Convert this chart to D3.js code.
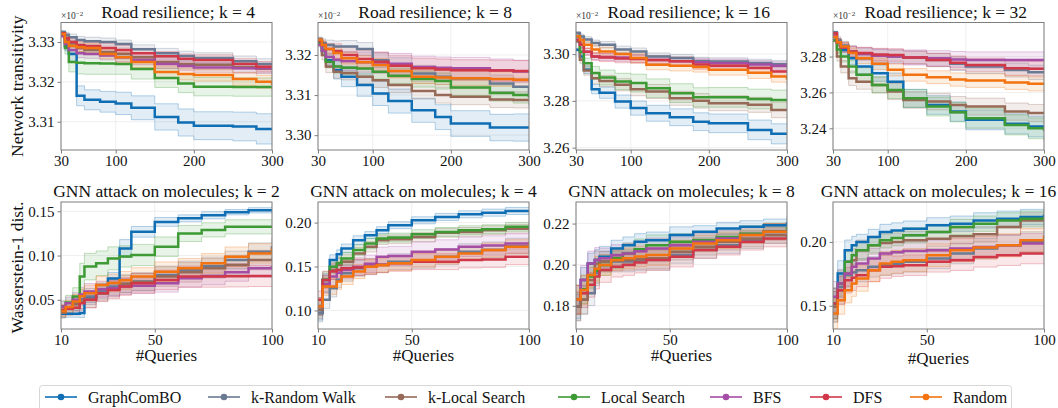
<!DOCTYPE html>
<html>
<head>
<meta charset="utf-8">
<script src="https://cdn.jsdelivr.net/npm/d3@7"></script>
<style>
  body { margin: 0; background: #fff; }
  svg, svg text { font-family: "Liberation Serif", "Times New Roman", "DejaVu Serif", serif; }
</style>
</head>
<body>
<script>
// methods, in legend order
const methods = ["GraphComBO", "k-Random Walk", "k-Local Search", "Local Search", "BFS", "DFS", "Random"];
const colors = ["#0f6eb4", "#6b7a93", "#976a58", "#3d9a35", "#a54ca4", "#d0384a", "#f2730f"];

// query grids (x values)
const roadQueries = [30, 35, 40, 50, 60, 80, 100, 120, 150, 180, 200, 250, 280, 300];
const gnnQueries = [10, 12, 15, 18, 20, 25, 30, 35, 40, 50, 60, 70, 80, 90, 100];

const roadXTicks = [30, 100, 200, 300];
const gnnXTicks = [10, 50, 100];
const road4YTicks = [3.31, 3.32, 3.33];
const road8YTicks = [3.30, 3.31, 3.32];
const road16YTicks = [3.26, 3.28, 3.30];
const road32YTicks = [3.24, 3.26, 3.28];
const gnn2YTicks = [0.05, 0.10, 0.15];
const gnn4YTicks = [0.10, 0.15, 0.20];
const gnn8YTicks = [0.18, 0.20, 0.22];
const gnn16YTicks = [0.15, 0.20];

// Road resilience, network transitivity (x1e-2); rows follow `methods`
const road4Mean = [
  [3.3318, 3.3290, 3.3270, 3.3165, 3.3155, 3.3150, 3.3146, 3.3135, 3.3112, 3.3098, 3.3090, 3.3088, 3.3082, 3.3082],
  [3.3325, 3.3318, 3.3312, 3.3305, 3.3302, 3.3300, 3.3295, 3.3282, 3.3272, 3.3265, 3.3260, 3.3252, 3.3245, 3.3243],
  [3.3322, 3.3305, 3.3296, 3.3285, 3.3280, 3.3275, 3.3270, 3.3262, 3.3250, 3.3245, 3.3243, 3.3237, 3.3233, 3.3233],
  [3.3318, 3.3285, 3.3250, 3.3248, 3.3247, 3.3246, 3.3245, 3.3232, 3.3210, 3.3196, 3.3188, 3.3187, 3.3187, 3.3187],
  [3.3315, 3.3295, 3.3280, 3.3272, 3.3270, 3.3266, 3.3262, 3.3255, 3.3245, 3.3240, 3.3236, 3.3234, 3.3234, 3.3234],
  [3.3322, 3.3310, 3.3300, 3.3292, 3.3290, 3.3285, 3.3280, 3.3272, 3.3264, 3.3258, 3.3255, 3.3245, 3.3238, 3.3235],
  [3.3320, 3.3300, 3.3290, 3.3287, 3.3285, 3.3270, 3.3262, 3.3250, 3.3225, 3.3220, 3.3217, 3.3207, 3.3200, 3.3193]
];
const road4Std = [
  [0.0004, 0.0012, 0.0018, 0.0025, 0.0025, 0.0026, 0.0028, 0.0030, 0.0033, 0.0034, 0.0035, 0.0036, 0.0038, 0.0038],
  [0.0004, 0.0006, 0.0008, 0.0009, 0.0010, 0.0010, 0.0010, 0.0011, 0.0012, 0.0012, 0.0013, 0.0013, 0.0013, 0.0013],
  [0.0004, 0.0007, 0.0009, 0.0010, 0.0011, 0.0011, 0.0012, 0.0012, 0.0013, 0.0013, 0.0013, 0.0013, 0.0013, 0.0013],
  [0.0004, 0.0015, 0.0025, 0.0028, 0.0028, 0.0027, 0.0026, 0.0025, 0.0024, 0.0023, 0.0023, 0.0023, 0.0023, 0.0023],
  [0.0004, 0.0008, 0.0010, 0.0011, 0.0011, 0.0011, 0.0012, 0.0012, 0.0012, 0.0012, 0.0012, 0.0012, 0.0012, 0.0012],
  [0.0004, 0.0007, 0.0009, 0.0010, 0.0010, 0.0011, 0.0011, 0.0012, 0.0012, 0.0012, 0.0013, 0.0013, 0.0013, 0.0013],
  [0.0004, 0.0008, 0.0010, 0.0011, 0.0012, 0.0012, 0.0013, 0.0014, 0.0015, 0.0015, 0.0015, 0.0016, 0.0016, 0.0016]
];

const road8Mean = [
  [3.3235, 3.3212, 3.3187, 3.3162, 3.3146, 3.3125, 3.3104, 3.3085, 3.3062, 3.3045, 3.3029, 3.3019, 3.3019, 3.3019],
  [3.3240, 3.3230, 3.3225, 3.3221, 3.3221, 3.3215, 3.3187, 3.3175, 3.3154, 3.3146, 3.3142, 3.3129, 3.3121, 3.3096],
  [3.3230, 3.3200, 3.3171, 3.3158, 3.3155, 3.3146, 3.3137, 3.3125, 3.3110, 3.3100, 3.3096, 3.3089, 3.3088, 3.3087],
  [3.3232, 3.3210, 3.3183, 3.3171, 3.3168, 3.3166, 3.3158, 3.3148, 3.3140, 3.3135, 3.3119, 3.3105, 3.3100, 3.3094],
  [3.3225, 3.3210, 3.3195, 3.3188, 3.3185, 3.3182, 3.3181, 3.3178, 3.3170, 3.3168, 3.3167, 3.3162, 3.3159, 3.3158],
  [3.3235, 3.3225, 3.3215, 3.3210, 3.3200, 3.3190, 3.3183, 3.3173, 3.3167, 3.3164, 3.3162, 3.3161, 3.3160, 3.3160],
  [3.3238, 3.3225, 3.3215, 3.3205, 3.3192, 3.3182, 3.3175, 3.3160, 3.3146, 3.3144, 3.3142, 3.3140, 3.3138, 3.3137]
];
const road8Std = [
  [0.0005, 0.0012, 0.0018, 0.0022, 0.0025, 0.0028, 0.0030, 0.0030, 0.0030, 0.0031, 0.0032, 0.0033, 0.0034, 0.0035],
  [0.0005, 0.0010, 0.0012, 0.0014, 0.0015, 0.0016, 0.0018, 0.0018, 0.0020, 0.0020, 0.0020, 0.0021, 0.0021, 0.0022],
  [0.0005, 0.0012, 0.0015, 0.0016, 0.0017, 0.0018, 0.0018, 0.0019, 0.0020, 0.0020, 0.0020, 0.0020, 0.0020, 0.0020],
  [0.0005, 0.0012, 0.0015, 0.0016, 0.0017, 0.0018, 0.0018, 0.0019, 0.0020, 0.0020, 0.0020, 0.0020, 0.0020, 0.0020],
  [0.0005, 0.0012, 0.0018, 0.0022, 0.0024, 0.0025, 0.0026, 0.0026, 0.0027, 0.0027, 0.0027, 0.0028, 0.0028, 0.0028],
  [0.0005, 0.0010, 0.0014, 0.0018, 0.0020, 0.0022, 0.0024, 0.0025, 0.0025, 0.0026, 0.0026, 0.0026, 0.0026, 0.0026],
  [0.0005, 0.0010, 0.0012, 0.0014, 0.0015, 0.0016, 0.0016, 0.0017, 0.0017, 0.0018, 0.0018, 0.0018, 0.0018, 0.0018]
];

const road16Mean = [
  [3.3019, 3.2990, 3.2933, 3.2850, 3.2835, 3.2797, 3.2769, 3.2747, 3.2730, 3.2711, 3.2704, 3.2676, 3.2659, 3.2659],
  [3.3090, 3.3075, 3.3062, 3.3047, 3.3040, 3.3020, 3.3011, 3.2990, 3.2983, 3.2970, 3.2968, 3.2962, 3.2957, 3.2954],
  [3.3054, 3.2976, 3.2930, 3.2897, 3.2885, 3.2869, 3.2850, 3.2840, 3.2811, 3.2800, 3.2790, 3.2783, 3.2761, 3.2761],
  [3.3076, 3.3010, 3.2961, 3.2919, 3.2900, 3.2883, 3.2876, 3.2854, 3.2833, 3.2815, 3.2815, 3.2808, 3.2804, 3.2804],
  [3.3061, 3.3040, 3.3010, 3.2990, 3.2988, 3.2985, 3.2980, 3.2975, 3.2969, 3.2965, 3.2961, 3.2955, 3.2950, 3.2947],
  [3.3060, 3.3040, 3.3010, 3.2990, 3.2985, 3.2981, 3.2979, 3.2975, 3.2969, 3.2955, 3.2950, 3.2940, 3.2926, 3.2921],
  [3.3076, 3.3060, 3.3040, 3.3020, 3.3011, 3.3000, 3.2983, 3.2954, 3.2950, 3.2945, 3.2933, 3.2920, 3.2904, 3.2890]
];
const road16Std = [
  [0.0006, 0.0012, 0.0016, 0.0020, 0.0024, 0.0028, 0.0030, 0.0034, 0.0036, 0.0038, 0.0040, 0.0042, 0.0043, 0.0043],
  [0.0006, 0.0010, 0.0012, 0.0013, 0.0014, 0.0014, 0.0015, 0.0015, 0.0015, 0.0016, 0.0016, 0.0016, 0.0016, 0.0016],
  [0.0006, 0.0015, 0.0020, 0.0022, 0.0024, 0.0026, 0.0028, 0.0030, 0.0030, 0.0031, 0.0032, 0.0032, 0.0033, 0.0034],
  [0.0006, 0.0015, 0.0022, 0.0028, 0.0032, 0.0035, 0.0038, 0.0040, 0.0040, 0.0041, 0.0042, 0.0042, 0.0042, 0.0043],
  [0.0006, 0.0012, 0.0014, 0.0015, 0.0015, 0.0016, 0.0016, 0.0016, 0.0017, 0.0017, 0.0017, 0.0017, 0.0017, 0.0017],
  [0.0006, 0.0012, 0.0015, 0.0016, 0.0017, 0.0018, 0.0018, 0.0019, 0.0019, 0.0020, 0.0020, 0.0020, 0.0020, 0.0020],
  [0.0006, 0.0012, 0.0015, 0.0017, 0.0018, 0.0020, 0.0020, 0.0021, 0.0022, 0.0022, 0.0023, 0.0024, 0.0024, 0.0025]
];

const road32Mean = [
  [3.2930, 3.2880, 3.2837, 3.2791, 3.2744, 3.2707, 3.2660, 3.2567, 3.2530, 3.2493, 3.2447, 3.2425, 3.2410, 3.2400],
  [3.2935, 3.2890, 3.2860, 3.2830, 3.2815, 3.2805, 3.2800, 3.2795, 3.2781, 3.2760, 3.2744, 3.2725, 3.2712, 3.2707],
  [3.2893, 3.2800, 3.2744, 3.2679, 3.2660, 3.2642, 3.2605, 3.2558, 3.2549, 3.2530, 3.2521, 3.2493, 3.2485, 3.2480],
  [3.2890, 3.2840, 3.2800, 3.2744, 3.2698, 3.2642, 3.2614, 3.2567, 3.2521, 3.2490, 3.2456, 3.2419, 3.2400, 3.2387],
  [3.2920, 3.2880, 3.2850, 3.2825, 3.2815, 3.2805, 3.2800, 3.2795, 3.2790, 3.2784, 3.2781, 3.2781, 3.2781, 3.2781],
  [3.2930, 3.2880, 3.2850, 3.2828, 3.2820, 3.2812, 3.2809, 3.2795, 3.2781, 3.2765, 3.2753, 3.2735, 3.2732, 3.2731],
  [3.2910, 3.2880, 3.2856, 3.2820, 3.2791, 3.2760, 3.2726, 3.2698, 3.2685, 3.2672, 3.2666, 3.2655, 3.2648, 3.2642]
];
const road32Std = [
  [0.0008, 0.0020, 0.0030, 0.0035, 0.0040, 0.0045, 0.0048, 0.0050, 0.0052, 0.0054, 0.0055, 0.0056, 0.0058, 0.0060],
  [0.0008, 0.0020, 0.0025, 0.0030, 0.0032, 0.0034, 0.0035, 0.0036, 0.0037, 0.0038, 0.0038, 0.0039, 0.0040, 0.0040],
  [0.0008, 0.0025, 0.0035, 0.0040, 0.0042, 0.0044, 0.0045, 0.0046, 0.0046, 0.0047, 0.0047, 0.0048, 0.0048, 0.0048],
  [0.0008, 0.0020, 0.0030, 0.0035, 0.0040, 0.0045, 0.0048, 0.0050, 0.0052, 0.0054, 0.0055, 0.0056, 0.0058, 0.0060],
  [0.0008, 0.0020, 0.0028, 0.0032, 0.0035, 0.0038, 0.0040, 0.0042, 0.0043, 0.0044, 0.0045, 0.0045, 0.0045, 0.0045],
  [0.0008, 0.0020, 0.0025, 0.0030, 0.0032, 0.0034, 0.0035, 0.0036, 0.0037, 0.0038, 0.0038, 0.0039, 0.0040, 0.0040],
  [0.0008, 0.0020, 0.0025, 0.0028, 0.0030, 0.0032, 0.0034, 0.0035, 0.0036, 0.0037, 0.0038, 0.0038, 0.0039, 0.0040]
];

// GNN attack on molecules, Wasserstein-1 distance
const gnn2Mean = [
  [0.0343, 0.0343, 0.0343, 0.0350, 0.0530, 0.0620, 0.0740, 0.1080, 0.1268, 0.1380, 0.1420, 0.1455, 0.1490, 0.1511, 0.1522],
  [0.0355, 0.0400, 0.0460, 0.0510, 0.0537, 0.0600, 0.0650, 0.0680, 0.0706, 0.0781, 0.0837, 0.0882, 0.0949, 0.1043, 0.1107],
  [0.0355, 0.0400, 0.0450, 0.0480, 0.0500, 0.0570, 0.0631, 0.0680, 0.0700, 0.0762, 0.0810, 0.0856, 0.0893, 0.0949, 0.0968],
  [0.0425, 0.0470, 0.0537, 0.0762, 0.0875, 0.0912, 0.0968, 0.0990, 0.1006, 0.1100, 0.1249, 0.1290, 0.1324, 0.1324, 0.1324],
  [0.0425, 0.0460, 0.0500, 0.0560, 0.0594, 0.0620, 0.0631, 0.0650, 0.0660, 0.0687, 0.0743, 0.0770, 0.0810, 0.0856, 0.0882],
  [0.0388, 0.0400, 0.0410, 0.0460, 0.0500, 0.0575, 0.0612, 0.0650, 0.0687, 0.0725, 0.0762, 0.0762, 0.0765, 0.0770, 0.0773],
  [0.0370, 0.0420, 0.0480, 0.0540, 0.0575, 0.0668, 0.0690, 0.0720, 0.0762, 0.0818, 0.0856, 0.0912, 0.0987, 0.1024, 0.1092]
];
const gnn2Std = [
  [0.004, 0.004, 0.004, 0.005, 0.006, 0.006, 0.007, 0.010, 0.006, 0.005, 0.004, 0.004, 0.003, 0.003, 0.003],
  [0.006, 0.007, 0.008, 0.008, 0.009, 0.009, 0.010, 0.010, 0.010, 0.010, 0.010, 0.010, 0.010, 0.010, 0.010],
  [0.006, 0.007, 0.008, 0.008, 0.009, 0.009, 0.010, 0.010, 0.010, 0.011, 0.011, 0.011, 0.011, 0.011, 0.011],
  [0.006, 0.008, 0.010, 0.015, 0.015, 0.014, 0.013, 0.012, 0.012, 0.011, 0.009, 0.008, 0.008, 0.008, 0.008],
  [0.006, 0.007, 0.008, 0.008, 0.009, 0.009, 0.009, 0.009, 0.009, 0.010, 0.010, 0.010, 0.010, 0.010, 0.010],
  [0.006, 0.007, 0.008, 0.008, 0.009, 0.009, 0.010, 0.010, 0.011, 0.011, 0.012, 0.012, 0.012, 0.012, 0.012],
  [0.006, 0.007, 0.008, 0.008, 0.009, 0.010, 0.010, 0.010, 0.010, 0.011, 0.011, 0.011, 0.011, 0.011, 0.011]
];

const gnn4Mean = [
  [0.0970, 0.1347, 0.1574, 0.1640, 0.1706, 0.1800, 0.1857, 0.1913, 0.1970, 0.2026, 0.2064, 0.2094, 0.2113, 0.2132, 0.2140],
  [0.0970, 0.1121, 0.1253, 0.1350, 0.1423, 0.1479, 0.1498, 0.1520, 0.1555, 0.1570, 0.1611, 0.1668, 0.1690, 0.1732, 0.1770],
  [0.1008, 0.1300, 0.1460, 0.1520, 0.1555, 0.1649, 0.1725, 0.1800, 0.1810, 0.1835, 0.1883, 0.1894, 0.1913, 0.1930, 0.1951],
  [0.1045, 0.1350, 0.1498, 0.1540, 0.1592, 0.1687, 0.1762, 0.1819, 0.1830, 0.1868, 0.1894, 0.1913, 0.1925, 0.1951, 0.1970],
  [0.1045, 0.1300, 0.1385, 0.1430, 0.1460, 0.1498, 0.1530, 0.1611, 0.1620, 0.1668, 0.1694, 0.1725, 0.1740, 0.1762, 0.1781],
  [0.1121, 0.1347, 0.1442, 0.1460, 0.1479, 0.1490, 0.1498, 0.1520, 0.1536, 0.1555, 0.1555, 0.1574, 0.1580, 0.1611, 0.1611],
  [0.1045, 0.1272, 0.1272, 0.1330, 0.1385, 0.1442, 0.1498, 0.1515, 0.1536, 0.1574, 0.1611, 0.1649, 0.1687, 0.1725, 0.1762]
];
const gnn4Std = [
  [0.008, 0.007, 0.006, 0.005, 0.005, 0.005, 0.004, 0.004, 0.004, 0.004, 0.004, 0.004, 0.004, 0.004, 0.004],
  [0.010, 0.010, 0.010, 0.009, 0.009, 0.009, 0.009, 0.009, 0.009, 0.009, 0.009, 0.009, 0.009, 0.009, 0.009],
  [0.010, 0.010, 0.009, 0.008, 0.008, 0.007, 0.006, 0.005, 0.005, 0.005, 0.005, 0.005, 0.005, 0.005, 0.005],
  [0.010, 0.009, 0.008, 0.007, 0.007, 0.006, 0.006, 0.005, 0.005, 0.005, 0.005, 0.005, 0.005, 0.005, 0.005],
  [0.010, 0.010, 0.010, 0.010, 0.010, 0.010, 0.010, 0.011, 0.011, 0.011, 0.011, 0.011, 0.011, 0.011, 0.011],
  [0.010, 0.010, 0.009, 0.009, 0.009, 0.009, 0.009, 0.009, 0.009, 0.009, 0.009, 0.009, 0.009, 0.009, 0.009],
  [0.010, 0.010, 0.009, 0.009, 0.009, 0.008, 0.008, 0.008, 0.008, 0.008, 0.008, 0.008, 0.008, 0.008, 0.008]
];

const gnn8Mean = [
  [0.1797, 0.1926, 0.2006, 0.2023, 0.2039, 0.2079, 0.2095, 0.2111, 0.2119, 0.2144, 0.2160, 0.2176, 0.2184, 0.2192, 0.2208],
  [0.1797, 0.1829, 0.1861, 0.1958, 0.2015, 0.2015, 0.2015, 0.2020, 0.2023, 0.2047, 0.2071, 0.2095, 0.2119, 0.2144, 0.2148],
  [0.1797, 0.1830, 0.1926, 0.2006, 0.2015, 0.2020, 0.2023, 0.2027, 0.2031, 0.2063, 0.2087, 0.2111, 0.2127, 0.2144, 0.2152],
  [0.1829, 0.1880, 0.1942, 0.1970, 0.1998, 0.2031, 0.2055, 0.2075, 0.2095, 0.2111, 0.2119, 0.2135, 0.2150, 0.2163, 0.2184],
  [0.1830, 0.1926, 0.2006, 0.2023, 0.2031, 0.2047, 0.2055, 0.2065, 0.2079, 0.2095, 0.2111, 0.2127, 0.2144, 0.2160, 0.2168],
  [0.1829, 0.1861, 0.1902, 0.1942, 0.1974, 0.1990, 0.1998, 0.2010, 0.2023, 0.2039, 0.2071, 0.2087, 0.2111, 0.2127, 0.2144],
  [0.1830, 0.1877, 0.1950, 0.1980, 0.1998, 0.2023, 0.2031, 0.2040, 0.2047, 0.2079, 0.2103, 0.2119, 0.2144, 0.2160, 0.2168]
];
const gnn8Std = [
  [0.006, 0.006, 0.005, 0.005, 0.005, 0.004, 0.004, 0.004, 0.004, 0.004, 0.003, 0.003, 0.003, 0.003, 0.003],
  [0.007, 0.007, 0.006, 0.006, 0.005, 0.005, 0.005, 0.005, 0.005, 0.004, 0.004, 0.004, 0.004, 0.004, 0.004],
  [0.007, 0.007, 0.006, 0.006, 0.005, 0.005, 0.005, 0.005, 0.005, 0.004, 0.004, 0.004, 0.004, 0.004, 0.004],
  [0.007, 0.007, 0.006, 0.006, 0.005, 0.005, 0.005, 0.005, 0.005, 0.004, 0.004, 0.004, 0.004, 0.004, 0.004],
  [0.007, 0.007, 0.006, 0.006, 0.005, 0.005, 0.005, 0.005, 0.005, 0.004, 0.004, 0.004, 0.004, 0.004, 0.004],
  [0.007, 0.007, 0.006, 0.006, 0.006, 0.005, 0.005, 0.005, 0.005, 0.005, 0.004, 0.004, 0.004, 0.004, 0.004],
  [0.007, 0.007, 0.006, 0.006, 0.005, 0.005, 0.005, 0.005, 0.005, 0.004, 0.004, 0.004, 0.004, 0.004, 0.004]
];

const gnn16Mean = [
  [0.1518, 0.1753, 0.1935, 0.1974, 0.2000, 0.2039, 0.2078, 0.2090, 0.2104, 0.2130, 0.2143, 0.2169, 0.2182, 0.2195, 0.2216],
  [0.1492, 0.1648, 0.1740, 0.1760, 0.1779, 0.1805, 0.1818, 0.1830, 0.1844, 0.1870, 0.1909, 0.1948, 0.1974, 0.2000, 0.2013],
  [0.1492, 0.1622, 0.1753, 0.1857, 0.1935, 0.1974, 0.1992, 0.2000, 0.2013, 0.2026, 0.2045, 0.2060, 0.2117, 0.2169, 0.2190],
  [0.1518, 0.1674, 0.1844, 0.1896, 0.1935, 0.1974, 0.2013, 0.2030, 0.2052, 0.2078, 0.2117, 0.2143, 0.2169, 0.2182, 0.2195],
  [0.1570, 0.1674, 0.1753, 0.1805, 0.1831, 0.1870, 0.1909, 0.1920, 0.1930, 0.1935, 0.1948, 0.1961, 0.1974, 0.1987, 0.2000],
  [0.1518, 0.1622, 0.1700, 0.1720, 0.1740, 0.1779, 0.1805, 0.1810, 0.1818, 0.1844, 0.1857, 0.1883, 0.1896, 0.1909, 0.1909],
  [0.1440, 0.1544, 0.1622, 0.1674, 0.1714, 0.1779, 0.1831, 0.1845, 0.1857, 0.1896, 0.1935, 0.1956, 0.1974, 0.2013, 0.2052]
];
const gnn16Std = [
  [0.012, 0.010, 0.008, 0.007, 0.006, 0.006, 0.006, 0.006, 0.006, 0.006, 0.006, 0.006, 0.006, 0.006, 0.006],
  [0.012, 0.011, 0.010, 0.009, 0.009, 0.008, 0.008, 0.008, 0.008, 0.008, 0.008, 0.008, 0.008, 0.008, 0.008],
  [0.012, 0.011, 0.010, 0.009, 0.008, 0.007, 0.007, 0.007, 0.007, 0.006, 0.006, 0.006, 0.006, 0.006, 0.006],
  [0.012, 0.010, 0.008, 0.007, 0.007, 0.006, 0.006, 0.006, 0.006, 0.006, 0.006, 0.006, 0.006, 0.006, 0.006],
  [0.012, 0.011, 0.010, 0.009, 0.009, 0.008, 0.008, 0.008, 0.008, 0.008, 0.008, 0.008, 0.008, 0.008, 0.008],
  [0.012, 0.011, 0.010, 0.010, 0.009, 0.009, 0.009, 0.008, 0.008, 0.008, 0.008, 0.008, 0.008, 0.008, 0.008],
  [0.012, 0.011, 0.010, 0.010, 0.010, 0.009, 0.009, 0.009, 0.009, 0.009, 0.009, 0.009, 0.009, 0.009, 0.009]
];

const width = 1058;
const height = 408;
const colLeft = [61, 318, 576, 833];
const plotW = 211;
const rowTop = [22.5, 202];
const plotH = [127.5, 127];
const serif = '"Liberation Serif", "Times New Roman", serif';

const panels = [
  { title: "Road resilience; k = 4", row: 0, col: 0, x: roadQueries, mean: road4Mean, std: road4Std, yDomain: [3.3029, 3.3349], yTicks: road4YTicks, xTicks: roadXTicks },
  { title: "Road resilience; k = 8", row: 0, col: 1, x: roadQueries, mean: road8Mean, std: road8Std, yDomain: [3.2963, 3.3281], yTicks: road8YTicks, xTicks: roadXTicks },
  { title: "Road resilience; k = 16", row: 0, col: 2, x: roadQueries, mean: road16Mean, std: road16Std, yDomain: [3.2590, 3.3135], yTicks: road16YTicks, xTicks: roadXTicks },
  { title: "Road resilience; k = 32", row: 0, col: 3, x: roadQueries, mean: road32Mean, std: road32Std, yDomain: [3.2279, 3.2990], yTicks: road32YTicks, xTicks: roadXTicks },
  { title: "GNN attack on molecules; k = 2", row: 1, col: 0, x: gnnQueries, mean: gnn2Mean, std: gnn2Std, yDomain: [0.017, 0.1605], yTicks: gnn2YTicks, xTicks: gnnXTicks },
  { title: "GNN attack on molecules; k = 4", row: 1, col: 1, x: gnnQueries, mean: gnn4Mean, std: gnn4Std, yDomain: [0.0789, 0.2234], yTicks: gnn4YTicks, xTicks: gnnXTicks },
  { title: "GNN attack on molecules; k = 8", row: 1, col: 2, x: gnnQueries, mean: gnn8Mean, std: gnn8Std, yDomain: [0.1687, 0.2305], yTicks: gnn8YTicks, xTicks: gnnXTicks },
  { title: "GNN attack on molecules; k = 16", row: 1, col: 3, x: gnnQueries, mean: gnn16Mean, std: gnn16Std, yDomain: [0.1318, 0.2313], yTicks: gnn16YTicks, xTicks: gnnXTicks }
];

const svg = d3.select("body").append("svg")
  .attr("width", width)
  .attr("height", height)
  .attr("font-family", serif);

const defs = svg.append("defs");

panels.forEach((p, pi) => {
  const left = colLeft[p.col];
  const top = rowTop[p.row];
  const h = plotH[p.row];
  const g = svg.append("g").attr("transform", `translate(${left},${top})`);

  const x = d3.scaleLinear().domain(d3.extent(p.x)).range([0, plotW]);
  const y = d3.scaleLinear().domain(p.yDomain).range([h, 0]);

  defs.append("clipPath").attr("id", "clip" + pi)
    .append("rect").attr("width", plotW).attr("height", h);

  // grid
  g.append("g").selectAll("line").data(p.xTicks).enter().append("line")
    .attr("x1", d => x(d)).attr("x2", d => x(d)).attr("y1", 0).attr("y2", h)
    .attr("stroke", "#ebebeb").attr("stroke-width", 0.8);
  g.append("g").selectAll("line").data(p.yTicks).enter().append("line")
    .attr("y1", d => y(d)).attr("y2", d => y(d)).attr("x1", 0).attr("x2", plotW)
    .attr("stroke", "#ebebeb").attr("stroke-width", 0.8);

  const plot = g.append("g").attr("clip-path", `url(#clip${pi})`);

  const area = d3.area()
    .curve(d3.curveStepAfter)
    .x(d => x(d.q))
    .y0(d => y(d.m - d.s))
    .y1(d => y(d.m + d.s));
  const line = d3.line().curve(d3.curveStepAfter).x(d => x(d.q));

  const series = p.mean.map((vals, si) => vals.map((m, i) => ({ q: p.x[i], m: m, s: p.std[si][i] })));

  // bands first, then mean lines on top
  series.forEach((pts, si) => {
    plot.append("path").datum(pts)
      .attr("d", area)
      .attr("fill", colors[si]).attr("fill-opacity", 0.12);
    plot.append("path").datum(pts)
      .attr("d", line.y(d => y(d.m + d.s)))
      .attr("fill", "none").attr("stroke", colors[si]).attr("stroke-opacity", 0.3).attr("stroke-width", 1);
    plot.append("path").datum(pts)
      .attr("d", line.y(d => y(d.m - d.s)))
      .attr("fill", "none").attr("stroke", colors[si]).attr("stroke-opacity", 0.3).attr("stroke-width", 1);
  });
  series.forEach((pts, si) => {
    plot.append("path").datum(pts)
      .attr("d", line.y(d => y(d.m)))
      .attr("fill", "none").attr("stroke", colors[si]).attr("stroke-width", 2.5);
  });

  // frame
  g.append("rect").attr("width", plotW).attr("height", h)
    .attr("fill", "none").attr("stroke", "#7f7f7f").attr("stroke-width", 1);

  // axes
  const xAxis = d3.axisBottom(x).tickValues(p.xTicks).tickSize(3.5).tickPadding(2).tickFormat(d3.format("d"));
  const yAxis = d3.axisLeft(y).tickValues(p.yTicks).tickSize(3.5).tickPadding(3).tickFormat(d3.format(".2f"));
  const xg = g.append("g").attr("transform", `translate(0,${h})`).call(xAxis);
  const yg = g.append("g").call(yAxis);
  [xg, yg].forEach(a => {
    a.attr("font-family", serif).attr("font-size", 15);
    a.select(".domain").remove();
    a.selectAll(".tick line").attr("stroke", "#7f7f7f");
    a.selectAll(".tick text").attr("fill", "#111");
  });

  // titles
  if (p.row === 0) {
    g.append("text").attr("x", plotW - 17).attr("y", -5)
      .attr("text-anchor", "end").attr("font-size", 17.5).attr("fill", "#111").text(p.title);
    const off = g.append("text").attr("x", 0).attr("y", -3.5).attr("font-size", 9.5).attr("fill", "#333");
    off.append("tspan").text("×10");
    off.append("tspan").attr("dy", -3.5).attr("font-size", 7).text("−2");
  } else {
    g.append("text").attr("x", plotW / 2).attr("y", -5)
      .attr("text-anchor", "middle").attr("font-size", 17.5).attr("fill", "#111").text(p.title);
    g.append("text").attr("x", plotW / 2).attr("y", h + (p.col === 3 ? 35 : 32))
      .attr("text-anchor", "middle").attr("font-size", 17).attr("fill", "#111").text("#Queries");
  }
});

// row labels
svg.append("text")
  .attr("transform", `translate(23,${rowTop[0] + plotH[0] / 2}) rotate(-90)`)
  .attr("text-anchor", "middle").attr("font-size", 17.5).attr("fill", "#111")
  .text("Network transitivity");
svg.append("text")
  .attr("transform", `translate(23,${rowTop[1] + plotH[1] / 2 + 2}) rotate(-90)`)
  .attr("text-anchor", "middle").attr("font-size", 17.5).attr("fill", "#111")
  .text("Wasserstein-1 dist.");

// legend
const legendX = [45, 208, 385, 558, 710, 810, 910];
const legend = svg.append("g");
legend.append("rect")
  .attr("x", 39.5).attr("y", 385.5).attr("width", 972).attr("height", 30).attr("rx", 3)
  .attr("fill", "#fff").attr("stroke", "#d6d6d6");
const items = legend.selectAll("g").data(methods).enter().append("g")
  .attr("transform", (d, i) => `translate(${legendX[i]},397)`);
items.append("line").attr("x1", 0).attr("x2", 32).attr("y1", 0).attr("y2", 0)
  .attr("stroke", (d, i) => colors[i]).attr("stroke-width", 1.6);
items.append("circle").attr("cx", 16).attr("cy", 0).attr("r", 3.3)
  .attr("fill", (d, i) => colors[i]);
items.append("text").attr("x", 43).attr("y", 5.5).attr("font-size", 16).attr("fill", "#111")
  .text(d => d);
</script>
</body>
</html>
